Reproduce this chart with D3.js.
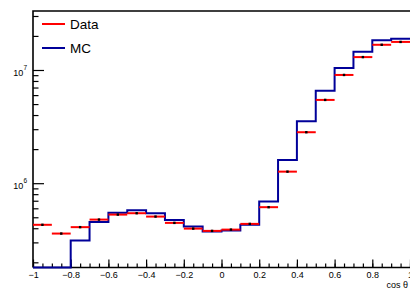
<!DOCTYPE html>
<html>
<head>
<meta charset="utf-8">
<script src="https://cdn.jsdelivr.net/npm/d3@7"></script>
<style>
  body { margin: 0; background: #fff; }
  svg { display: block; font-family: "Liberation Sans", Arial, sans-serif; }
</style>
</head>
<body>
<div id="chart"></div>
<script>
// bin edges of cos theta, 20 bins of 0.1
var binEdges = [-1, -0.9, -0.8, -0.7, -0.6, -0.5, -0.4, -0.3, -0.2, -0.1, 0,
                0.1, 0.2, 0.3, 0.4, 0.5, 0.6, 0.7, 0.8, 0.9, 1];
var dataValues = [4.29e5, 3.59e5, 4.09e5, 4.77e5, 5.28e5, 5.43e5, 5.07e5, 4.46e5, 3.97e5, 3.79e5,
                  3.89e5, 4.37e5, 6.14e5, 1.265e6, 2.82e6, 5.44e6, 9.04e6, 1.30e7, 1.67e7, 1.77e7];
var mcValues = [0, 0, 3.11e5, 4.55e5, 5.47e5, 5.78e5, 5.44e5, 4.74e5, 4.14e5, 3.74e5,
                3.82e5, 4.29e5, 6.88e5, 1.60e6, 3.52e6, 6.57e6, 1.04e7, 1.45e7, 1.83e7, 1.89e7];
var xMajorTicks = [-1, -0.8, -0.6, -0.4, -0.2, 0, 0.2, 0.4, 0.6, 0.8, 1];
var yMajorTicks = [1e6, 1e7];
var yDomain = [1.8e5, 3.32e7];

var width = 410, height = 289;
var frame = { left: 33, right: 410, top: 11, bottom: 267.5 };

var svg = d3.select("#chart").append("svg")
    .attr("width", width)
    .attr("height", height);

var x = d3.scaleLinear().domain([-1, 1]).range([frame.left, frame.right]);
var y = d3.scaleLog().domain(yDomain).range([frame.bottom, frame.top]);

// minor ticks for y: 2..9 x decade inside domain
var yMinor = [];
[1e5, 1e6, 1e7].forEach(function(d) {
    for (var k = 1; k <= 9; k++) {
        var v = d * k;
        if (v >= yDomain[0] && v <= yDomain[1] && yMajorTicks.indexOf(v) < 0) yMinor.push(v);
    }
});
var xMinor = d3.range(-1, 1.0001, 0.05).map(function(d) { return Math.round(d * 100) / 100; });

// x axis ticks (pointing up, inside)
svg.append("g")
    .attr("transform", "translate(0," + frame.bottom + ")")
    .call(d3.axisTop(x).tickValues(xMinor).tickSize(4).tickFormat(""))
    .call(function(g) { g.select(".domain").remove(); })
    .selectAll("line").attr("stroke", "#000").attr("stroke-width", 1.2);
svg.append("g")
    .attr("transform", "translate(0," + frame.bottom + ")")
    .call(d3.axisTop(x).tickValues(xMajorTicks).tickSize(8).tickFormat(""))
    .call(function(g) { g.select(".domain").remove(); })
    .selectAll("line").attr("stroke", "#000").attr("stroke-width", 1.2);
// x labels
svg.append("g")
    .attr("transform", "translate(0," + frame.bottom + ")")
    .call(d3.axisBottom(x).tickValues(xMajorTicks).tickSize(0).tickPadding(4)
        .tickFormat(function(d) { return d3.format("")(d); }))
    .call(function(g) { g.select(".domain").remove(); })
    .selectAll("text")
    .attr("font-size", 9)
    .attr("font-family", "Liberation Sans, Arial, sans-serif")
    .attr("fill", "#000");

// y axis ticks (pointing right, inside)
svg.append("g")
    .attr("transform", "translate(" + frame.left + ",0)")
    .call(d3.axisRight(y).tickValues(yMinor).tickSize(5.5).tickFormat(""))
    .call(function(g) { g.select(".domain").remove(); })
    .selectAll("line").attr("stroke", "#000").attr("stroke-width", 1.2);
svg.append("g")
    .attr("transform", "translate(" + frame.left + ",0)")
    .call(d3.axisRight(y).tickValues(yMajorTicks).tickSize(11).tickFormat(""))
    .call(function(g) { g.select(".domain").remove(); })
    .selectAll("line").attr("stroke", "#000").attr("stroke-width", 1.2);

// y labels 10^n
yMajorTicks.forEach(function(v) {
    var t = svg.append("text")
        .attr("x", 27)
        .attr("y", y(v) + 6)
        .attr("text-anchor", "end")
        .attr("font-size", 9)
        .attr("fill", "#000");
    t.append("tspan").text("10");
    t.append("tspan").attr("font-size", 6.5).attr("dy", -6).text(Math.round(Math.log10(v)));
});

// frame lines
svg.append("path")
    .attr("d", "M" + frame.left + "," + frame.bottom + "V" + frame.top + "H" + frame.right)
    .attr("fill", "none").attr("stroke", "#000").attr("stroke-width", 1.6);
svg.append("line")
    .attr("x1", frame.left).attr("x2", frame.right)
    .attr("y1", frame.bottom).attr("y2", frame.bottom)
    .attr("stroke", "#000").attr("stroke-width", 1.6);

// MC histogram (step)
function yc(v) { return y(Math.max(v, yDomain[0])); }
var mcPts = mcValues.map(function(v, i) { return [binEdges[i], v]; });
mcPts.push([binEdges[binEdges.length - 1], mcValues[mcValues.length - 1]]);
svg.append("path")
    .datum(mcPts)
    .attr("fill", "none")
    .attr("stroke", "#000099")
    .attr("stroke-width", 2)
    .attr("d", d3.line().curve(d3.curveStepAfter)
        .x(function(d) { return x(d[0]); })
        .y(function(d) { return yc(d[1]); }));

// Data: horizontal bars with marker
var dataG = svg.append("g");
dataG.selectAll("line.data")
    .data(dataValues)
    .enter().append("line")
    .attr("class", "data")
    .attr("x1", function(d, i) { return x(binEdges[i]); })
    .attr("x2", function(d, i) { return x(binEdges[i + 1]); })
    .attr("y1", function(d) { return y(d); })
    .attr("y2", function(d) { return y(d); })
    .attr("stroke", "#ff0000")
    .attr("stroke-width", 2);
dataG.selectAll("rect.mark")
    .data(dataValues)
    .enter().append("rect")
    .attr("class", "mark")
    .attr("x", function(d, i) { return x((binEdges[i] + binEdges[i + 1]) / 2) - 1.2; })
    .attr("y", function(d) { return y(d) - 1.2; })
    .attr("width", 2.4)
    .attr("height", 2.4)
    .attr("fill", "#000");

// axis title
svg.append("text")
    .attr("x", 408)
    .attr("y", 288)
    .attr("text-anchor", "end")
    .attr("font-size", 9)
    .attr("fill", "#000")
    .text("cos θ");

// legend
var legend = [{ name: "Data", color: "#ff0000", y: 24 }, { name: "MC", color: "#000099", y: 48 }];
legend.forEach(function(l) {
    svg.append("line")
        .attr("x1", 42).attr("x2", 65)
        .attr("y1", l.y).attr("y2", l.y)
        .attr("stroke", l.color).attr("stroke-width", 2);
    svg.append("text")
        .attr("x", 70)
        .attr("y", l.y + 5)
        .attr("font-size", 13.5)
        .attr("fill", "#000")
        .text(l.name);
});
</script>
</body>
</html>
